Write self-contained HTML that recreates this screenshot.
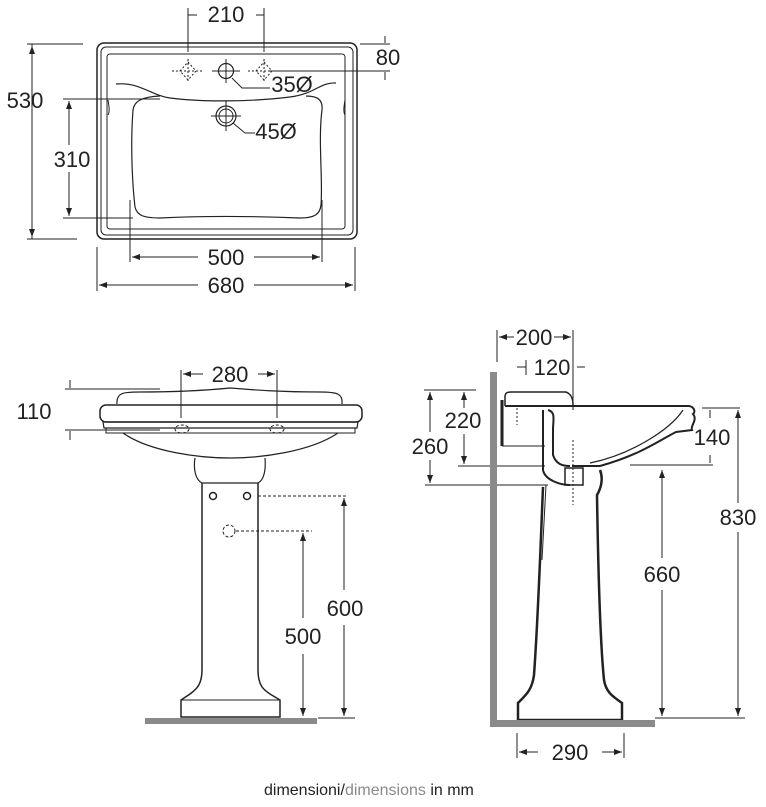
<!DOCTYPE html>
<html><head><meta charset="utf-8"><style>
html,body{margin:0;padding:0;background:#fff;width:766px;height:807px;overflow:hidden}
svg{display:block}
text{font-family:"Liberation Sans",sans-serif;fill:#222}
.d{font-size:22px;text-anchor:middle}
</style></head><body>
<svg width="766" height="807" viewBox="0 0 766 807">
<defs>
<marker id="a" markerWidth="8" markerHeight="6" refX="8" refY="3" orient="auto" markerUnits="userSpaceOnUse"><path d="M0,0 L8,3 L0,6 Z" fill="#222"/></marker>
</defs>
<g fill="none" stroke="#222" stroke-width="1">
<!-- TOP VIEW -->
<rect x="97" y="43" width="260" height="196" rx="7" stroke-width="1.5"/>
<rect x="101" y="47" width="252" height="188" rx="5"/>
<rect x="107" y="54" width="238" height="175" rx="3"/>
<path d="M116,84 C140,82 150,95 170,98 C200,102 250,102 290,97 C315,94 320,82 336,83" stroke-width="1.2"/>
<path d="M160,96 C140,97 134,102 133,110 C130,150 133,190 135,207 C137,216 145,218 160,218 C200,216 250,216 300,218 C315,218 320,214 321,205 C323,180 318,140 322,110 C323,100 318,96 306,96" stroke-width="1.2"/>
<path d="M108,115 C110,112 109,106 108,100 M345,115 C343,112 344,106 345,100"/>
<circle cx="226" cy="71" r="7.5" stroke-width="1.2"/>
<path d="M226,59 V83 M212,71 H240"/>
<circle cx="226" cy="116" r="10" stroke-width="1.2"/><circle cx="226" cy="116" r="7"/>
<path d="M226,101 V131 M211,116 H241"/>
<g stroke-dasharray="2,2">
<path d="M188,62 L196,71 L188,80 L180,71 Z M172,71 H204 M188,59 V83"/>
<path d="M264,62 L272,71 L264,80 L256,71 Z M248,71 H280 M264,59 V83"/>
</g>
<path d="M232,78 L242,88 H270 M233,123 L245,133 H255"/>
<path d="M188,8 V52 M264,8 V52 M188,15 H197 M264,15 H256"/>
<path d="M27,44 H83 M27,239 H77 M32,44 V239" />
<path d="M32,88 V46" marker-end="url(#a)"/><path d="M32,112 V237" marker-end="url(#a)"/>
<path d="M63,99 H160 M63,218 H133"/>
<path d="M69,145 V101" marker-end="url(#a)"/><path d="M69,172 V216" marker-end="url(#a)"/>
<path d="M130,200 V262 M322,200 V262"/>
<path d="M198,257 H132" marker-end="url(#a)"/><path d="M254,257 H320" marker-end="url(#a)"/>
<path d="M97,247 V291 M355,247 V291"/>
<path d="M198,285 H99" marker-end="url(#a)"/><path d="M254,285 H353" marker-end="url(#a)"/>
<path d="M360,44 H390 M270,71 H390 M385,36 V43 M385,80 V72"/>
<!-- FRONT VIEW -->
<path d="M117,404 C116,392 125,392 140,392 C180,392 210,390 230,388 C255,390 280,392 320,392 C338,392 343,394 342,404" stroke-width="1.2"/>
<rect x="100" y="405" width="262" height="17" rx="6" stroke-width="1.5"/>
<path d="M103,422 H358 L357,428 H104 Z" stroke-width="1.2"/>
<path d="M106,428 V433 H355 V428"/>
<path d="M123,433 C150,452 200,458 230,458 C260,458 310,452 338,433" stroke-width="1.2"/>
<path d="M195,458 C193,470 196,480 202,483 H258 C264,480 266,470 265,458" stroke-width="1.2"/>
<path d="M202,483 V670 C202,686 195,690 190,694 L181,700 V717 H280 V700 L270,694 C264,690 258,686 258,670 V483" stroke-width="1.5"/>
<path d="M181,700 H280"/>
<g stroke-dasharray="3,2"><ellipse cx="182" cy="429" rx="7" ry="4"/><ellipse cx="277" cy="429" rx="7" ry="4"/><circle cx="229" cy="531" r="6"/><path d="M236,531 H312 M258,496 H346"/></g>
<circle cx="213" cy="496" r="3.5" stroke-width="1.5"/><circle cx="247" cy="496" r="3.5" stroke-width="1.5"/>
<path d="M181,370 V418 M277,370 V418"/>
<path d="M203,374 H183" marker-end="url(#a)"/><path d="M258,374 H275" marker-end="url(#a)"/>
<path d="M65,389 H160 M65,430 H160 M70,380 V388 M70,440 V431"/>
<path d="M344,590 V498" marker-end="url(#a)"/><path d="M344,625 V716" marker-end="url(#a)"/>
<path d="M303,618 V533" marker-end="url(#a)"/><path d="M303,654 V716" marker-end="url(#a)"/>
<path d="M318,718 H355"/>
<!-- SIDE VIEW -->
<path d="M505,406 V397 C505,393 507,392 511,392 H566 C571,394 573,398 573,405" stroke-width="1.5"/>
<path d="M505,406 H688 C694,406 696,412 693,414 C698,420 690,426 692,430 L676,432 C660,440 640,455 600,466 H572" stroke-width="2"/>
<path d="M683,410 C670,430 630,455 590,463" stroke-width="1.2"/>
<path d="M543,410 V470 C545,480 560,485 570,485 M548,410 C556,412 553,420 553,430 V455 C556,464 562,466 570,466" stroke-width="2"/>
<rect x="565" y="468" width="18" height="17" stroke-width="1.5"/>
<path d="M502,400 V446" stroke-width="3"/>
<path d="M502,446 H545" />
<path d="M600,470 C604,480 600,490 597,495 C598,560 600,640 604,680 C606,692 612,696 622,703 V720 H518 V703 C526,695 532,690 534,675 C538,620 540,560 543,487" stroke-width="2.5"/>
<g stroke-dasharray="2,2"><path d="M517,408 V425 M573,440 V505"/></g>
<path d="M546,485 L542,560"/>
<path d="M497,330 V362 M573,330 V410"/>
<path d="M514,337 H499" marker-end="url(#a)"/><path d="M554,337 H571" marker-end="url(#a)"/>
<path d="M526,360 V375 M517,367 H526 M585,367 H577"/>
<path d="M424,390 H476 M458,466 H545 M425,485 H548"/>
<path d="M464,408 V392" marker-end="url(#a)"/><path d="M464,434 V464" marker-end="url(#a)"/>
<path d="M430,432 V392" marker-end="url(#a)"/><path d="M430,460 V483" marker-end="url(#a)"/>
<path d="M702,408 H740 M630,465 H713 M710,418 V410 M710,455 V463"/>
<path d="M738,503 V410" marker-end="url(#a)"/><path d="M738,532 V716" marker-end="url(#a)"/>
<path d="M662,558 V470" marker-end="url(#a)"/><path d="M662,590 V716" marker-end="url(#a)"/>
<path d="M655,718 H745"/>
<path d="M517,733 V758 M624,733 V758"/>
<path d="M538,752 H519" marker-end="url(#a)"/><path d="M602,752 H622" marker-end="url(#a)"/>
</g>
<rect x="145" y="718" width="172" height="6" fill="#8a8a8a"/>
<rect x="490" y="372" width="7" height="355" fill="#8a8a8a"/>
<rect x="490" y="720" width="165" height="7" fill="#8a8a8a"/>
<text class="d" x="226" y="22">210</text>
<text class="d" x="388" y="65">80</text>
<text class="d" x="292" y="92">35Ø</text>
<text class="d" x="276" y="139">45Ø</text>
<text class="d" x="25" y="108">530</text>
<text class="d" x="72" y="167">310</text>
<text class="d" x="226" y="265">500</text>
<text class="d" x="226" y="293">680</text>
<text class="d" x="230" y="382">280</text>
<text class="d" x="34" y="419">110</text>
<text class="d" x="345" y="616">600</text>
<text class="d" x="303" y="644">500</text>
<text class="d" x="534" y="345">200</text>
<text class="d" x="552" y="375">120</text>
<text class="d" x="463" y="428">220</text>
<text class="d" x="430" y="454">260</text>
<text class="d" x="712" y="445">140</text>
<text class="d" x="738" y="525">830</text>
<text class="d" x="662" y="582">660</text>
<text class="d" x="570" y="760">290</text>
<text x="264" y="795" style="font-size:16px">dimensioni/<tspan style="fill:#8a8a8a">dimensions</tspan>  in mm</text>
</svg>
</body></html>
